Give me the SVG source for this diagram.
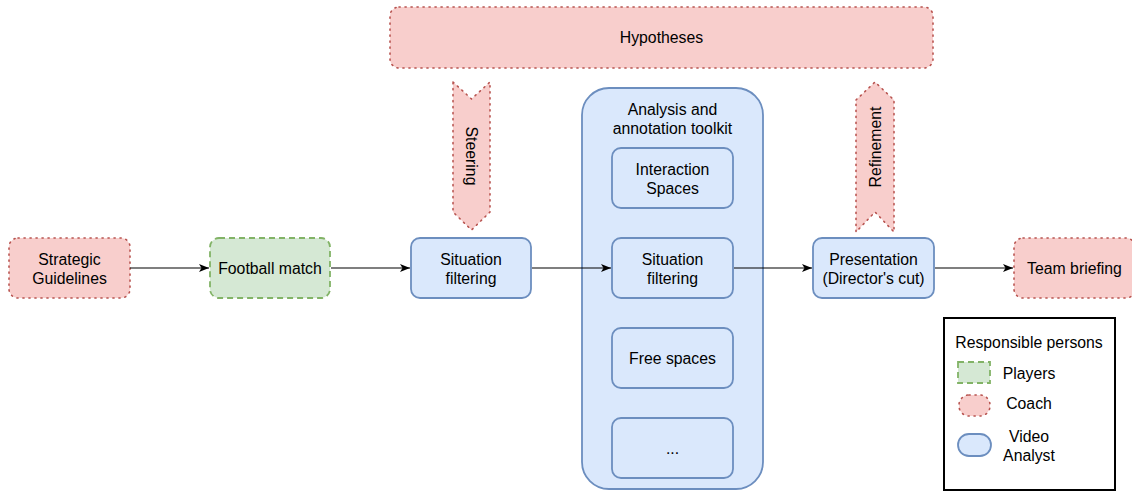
<svg xmlns="http://www.w3.org/2000/svg" width="1132" height="491" viewBox="0 0 1132 491">
<defs>
<marker id="arr" viewBox="0 0 10 10" refX="10" refY="5" markerWidth="10" markerHeight="10" markerUnits="userSpaceOnUse" orient="auto">
<path d="M0,1 L10,5 L0,9 L2.5,5 Z" fill="#000"/>
</marker>
</defs>
<style>
.coach{fill:#f8cecc;stroke:#b85450;stroke-width:1.6;stroke-dasharray:1.2 4.8;stroke-linecap:round}
.player{fill:#d5e8d4;stroke:#82b366;stroke-width:1.8;stroke-dasharray:6 4}
.analyst{fill:#dae8fc;stroke:#6c8ebf;stroke-width:1.8}
text{font-family:"Liberation Sans",Arial,Helvetica,sans-serif;font-size:15.8px;fill:#000;text-anchor:middle}
.conn{stroke:#000;stroke-width:1.2;fill:none;marker-end:url(#arr)}
</style>
<rect x="0" y="0" width="1132" height="491" fill="#fff"/>

<g id="hypotheses">
<rect class="coach" x="390" y="7" width="543" height="61" rx="9"/>
<text x="661.5" y="43">Hypotheses</text>
</g>

<g id="steering">
<polygon class="coach" points="453,82 471.5,99 490,82 490,212 471.5,230 453,212"/>
<text transform="translate(471.5,156) rotate(90)" dominant-baseline="central">Steering</text>
</g>

<g id="refinement">
<polygon class="coach" points="856,100 875,82 894,100 894,232 875,212 856,232"/>
<text transform="translate(875,147) rotate(-90)" dominant-baseline="central">Refinement</text>
</g>

<g id="strategic">
<rect class="coach" x="9" y="238" width="121" height="60" rx="9"/>
<text x="69.5" y="264.5">Strategic</text>
<text x="69.5" y="283.5">Guidelines</text>
</g>

<g id="football">
<rect class="player" x="210" y="238" width="120" height="60" rx="9"/>
<text x="270" y="273.5">Football match</text>
</g>

<g id="situation1">
<rect class="analyst" x="411" y="238" width="120" height="60" rx="9"/>
<text x="471" y="264.5">Situation</text>
<text x="471" y="283.5">filtering</text>
</g>

<g id="toolkit">
<rect class="analyst" x="582" y="88" width="181" height="401" rx="27"/>
<text x="672.5" y="114.5">Analysis and</text>
<text x="672.5" y="134">annotation toolkit</text>
</g>

<g id="interaction">
<rect class="analyst" x="612" y="148" width="121" height="60" rx="9"/>
<text x="672.5" y="174.5">Interaction</text>
<text x="672.5" y="193.5">Spaces</text>
</g>

<g id="situation2">
<rect class="analyst" x="612" y="238" width="121" height="60" rx="9"/>
<text x="672.5" y="264.5">Situation</text>
<text x="672.5" y="283.5">filtering</text>
</g>

<g id="freespaces">
<rect class="analyst" x="612" y="328" width="121" height="60" rx="9"/>
<text x="672.5" y="363.5">Free spaces</text>
</g>

<g id="more">
<rect class="analyst" x="612" y="418" width="121" height="60" rx="9"/>
<text x="672.5" y="453.5">...</text>
</g>

<g id="presentation">
<rect class="analyst" x="813" y="238" width="121" height="60" rx="9"/>
<text x="873.5" y="264.5">Presentation</text>
<text x="873.5" y="283.5">(Director's cut)</text>
</g>

<g id="teambriefing">
<rect class="coach" x="1014" y="238" width="121" height="60" rx="9"/>
<text x="1074.5" y="273.5">Team briefing</text>
</g>

<g id="connectors">
<line class="conn" x1="130" y1="268" x2="209" y2="268"/>
<line class="conn" x1="331" y1="268" x2="410" y2="268"/>
<line class="conn" x1="532" y1="268" x2="611" y2="268"/>
<line class="conn" x1="734" y1="268" x2="812" y2="268"/>
<line class="conn" x1="935" y1="268" x2="1013" y2="268"/>
</g>

<g id="legend">
<rect x="944" y="318" width="171" height="172" fill="#fff" stroke="#000" stroke-width="2"/>
<text x="1029" y="348">Responsible persons</text>
<rect class="player" x="958" y="362" width="32" height="21"/>
<text x="1029" y="378.5">Players</text>
<rect class="coach" x="959" y="395" width="31" height="21" rx="10"/>
<text x="1029" y="409">Coach</text>
<rect class="analyst" x="958" y="434" width="33" height="22" rx="11"/>
<text x="1029" y="441.5">Video</text>
<text x="1029" y="460.5">Analyst</text>
</g>
</svg>
